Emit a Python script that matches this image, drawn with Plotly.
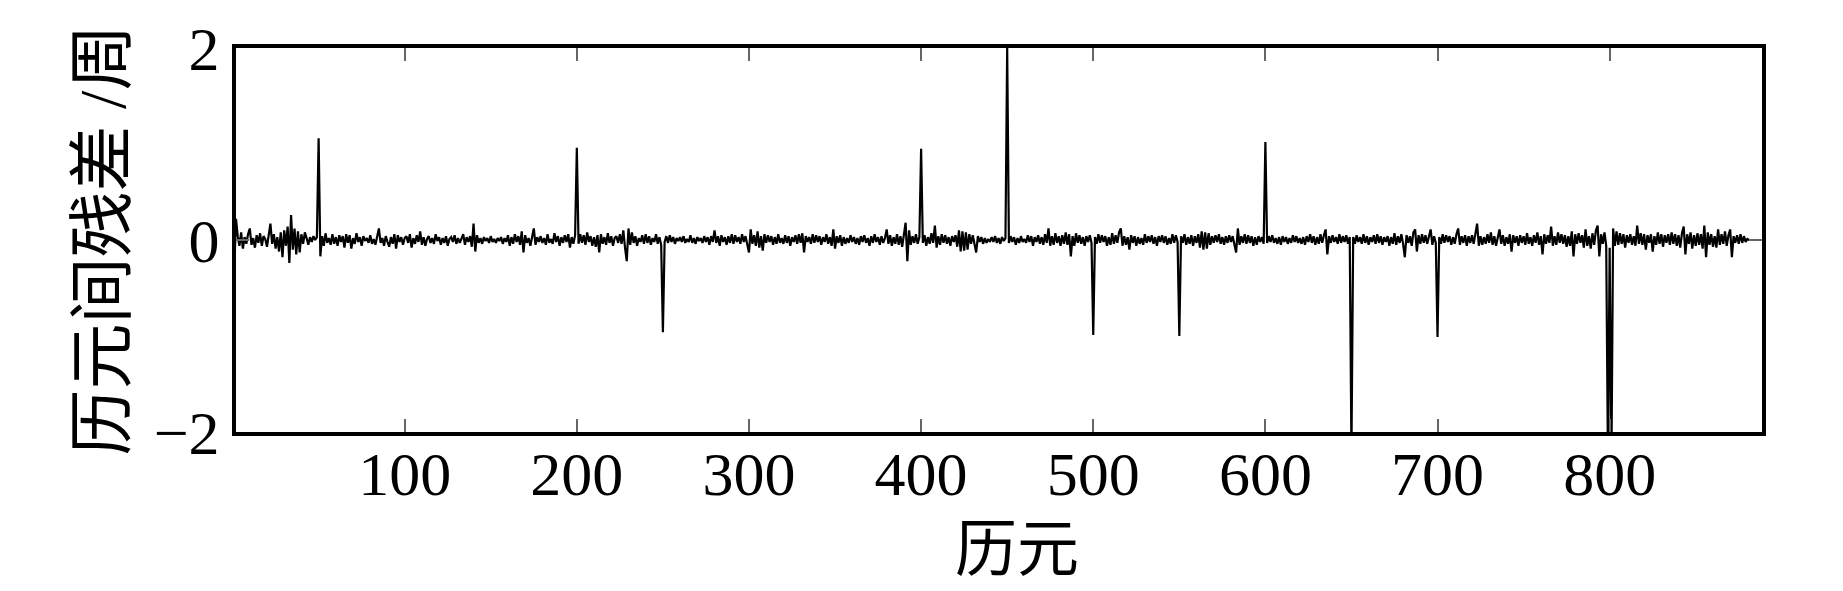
"""Epoch-differenced residuals (cycles) against epoch number."""

import plotly.graph_objects as go

# ---------------------------------------------------------------------------
# Data (residuals in 0.01 cycle, one value per epoch)
# ---------------------------------------------------------------------------

RES_001_100 = [
    -30, 22, 4, -6, 8, -9, 3, -4, 6, 12, -5, 2, -8, 5, -3, 7, -6, 4, 1, -7,
    5, 17, -4, 6, -9, 3, -12, 8, -18, 10, -6, 14, -24, 26, -10, 12, -15, 9, -13, 6,
    -4, 8, 2, -5, 3, -2, 4, 0, 3, 106, -17, 4, -6, 7, -3, 2, -5, 6, -4, 3,
    -6, 5, -2, 4, -8, 6, -3, 5, -9, 2, -4, 7, -2, 3, -6, 4, -1, 2, -3, 5,
    -4, 1, -5, 3, 12, -3, 2, -6, 4, -2, -7, 3, -4, 6, -9, 5, -2, 3, -5, 2,
]
RES_101_200 = [
    4, -3, 6, -8, 2, -4, 5, -2, 9, -5, 3, -6, 1, 4, -3, 2, -4, 6, -1, 3,
    -5, 2, -3, 4, -6, 1, 3, -2, 5, -4, 2, -3, 1, 6, -5, 3, -2, 4, -7, 17,
    -12, 5, -3, 2, -4, 3, -1, 2, -3, 4, -2, 1, -3, 2, -1, 3, -4, 2, -2, 5,
    -6, 3, -4, 6, -2, 4, -5, 9, -13, 5, -3, 2, -6, 4, 12, -5, 3, -2, 4, -3,
    2, -5, 6, -3, 1, -4, 7, -2, 4, -6, 3, -3, 5, -2, 6, -8, 3, -4, 5, 96,
]
RES_201_300 = [
    -4, 6, -3, 5, -5, 8, -2, 4, -6, 3, -7, 5, -13, 6, -4, 3, -5, 7, -3, 4,
    -6, 2, 4, -3, 6, -4, 10, -8, -22, 12, -5, 8, -3, 4, -6, 2, -2, 5, -4, 6,
    -3, 4, -5, 2, -2, 6, -4, 3, -5, -96, -2, 4, -3, 5, -2, 3, -4, 2, -1, 3,
    -2, 4, -3, 1, -2, 5, -3, 2, -4, 3, -1, 2, -3, 4, -2, 3, -5, 4, -2, 10,
    -3, 4, -6, 5, -2, 3, -5, 4, -3, 6, -4, 5, -2, 3, -4, 6, -2, 4, -3, -13,
]
RES_301_400 = [
    11, -4, 5, -6, 9, -8, 4, -11, 6, -3, 5, -2, 4, -5, 3, -4, 6, -3, 2, -4,
    5, -3, 4, -6, 3, -2, 5, -4, 6, -3, 7, -13, 4, -2, 3, -4, 6, -3, 5, -2,
    4, -5, 3, -2, 6, -4, 3, -6, 11, -9, 4, -3, 5, -6, 3, -4, 2, -3, 5, -2,
    3, -4, 2, -5, 4, -2, 5, -3, 2, -6, 4, -3, 6, -2, 3, -5, 4, -3, 2, 11,
    -4, 5, -6, 3, -4, 6, -5, 4, -7, 8, 18, -22, 10, -5, 4, -3, 6, -4, 3, 95,
]
RES_401_500 = [
    -3, 5, -6, 3, -4, 7, -3, 15, -8, 4, -5, 6, -3, 5, -4, 3, -6, 4, -2, 5,
    -7, 10, -12, 9, -11, 8, -10, 6, -4, 5, -3, -13, 4, -2, 3, -4, 2, -3, 1, -2,
    3, -2, 4, -3, 2, -4, 3, -1, 2, 200, -3, 4, -2, 3, -5, 2, -3, 4, -2, 1,
    -3, 5, -2, 4, -6, 3, -2, 5, -4, 3, -5, 6, -3, 12, -6, 4, -5, 7, -3, 4,
    -6, 5, -4, 8, -5, 6, -17, 4, -6, 7, -3, 5, -4, 3, -6, 4, -2, 5, -3, -99,
]
RES_501_600 = [
    3, -4, 6, -3, 5, -2, 4, -6, 3, -5, 7, -4, 5, -3, 8, 12, -6, 4, -5, 3,
    -10, 5, -3, 4, -6, 3, -4, 2, -5, 6, -3, 4, -2, 5, -4, 3, -6, 4, -2, 5,
    -3, 4, -5, 2, -4, 6, -3, 5, -2, -100, 4, -3, 6, -5, 3, -4, 5, -6, 4, -3,
    6, -8, 9, -10, 8, -9, 7, -5, 4, -3, 5, -2, 6, -4, 3, -5, 4, -3, 5, -2,
    4, -6, -13, 12, -5, 4, -3, 6, -4, 5, -3, 4, -6, 3, -5, 4, -2, 3, -4, 102,
]
RES_601_700 = [
    -3, 4, -2, 5, -3, 2, -4, 3, -5, 4, -2, 3, -4, 2, -3, 5, -2, 4, -3, 2,
    -4, 3, -5, 4, -2, 6, -3, 4, -5, 3, -4, 6, -3, 5, 11, -15, 4, -3, 5, -2,
    3, -4, 6, -3, 4, -2, 5, -4, 3, -220, 3, -4, 5, -2, 3, -4, 6, -3, 4, -5,
    3, -2, 5, -4, 6, -3, 4, -5, 3, -2, 4, -6, 3, -4, 7, -5, 4, -3, 6, -4,
    -18, 5, -3, 4, -6, 8, 11, -12, 5, -4, 6, -3, 5, -4, 3, 11, -5, 4, -3, -101,
]
RES_701_800 = [
    3, -4, 6, -3, 5, -2, 4, -5, 3, -4, 6, 12, -5, 4, -3, 5, -6, 4, -3, 5,
    -4, 6, 17, -6, 4, -5, 3, -4, 6, -3, 8, -5, 4, -6, 3, 11, -4, 5, -6, 3,
    -4, 6, -12, 5, -3, 4, -6, 5, -3, 4, -5, 7, -4, 3, -6, 5, -3, 8, -5, 4,
    -15, 6, -4, 5, -3, 14, -6, 4, -5, 8, -3, 6, -4, 5, -7, 4, -6, 9, -17, 6,
    -4, 7, -3, 5, -8, 11, -6, 4, -9, 7, -5, 10, 15, -17, 6, -4, 8, -6, -230, -8,
]
RES_801_888 = [
    -240, 12, -6, 9, -5, 7, -4, 6, -8, 5, -3, 6, -5, 4, -6, 15, -4, 7, -5, 6,
    -10, 5, -3, 6, -12, 4, -5, 8, -4, 6, -7, 5, -3, 6, -5, 8, -4, 6, -6, 5,
    -8, 7, 14, -15, 6, -4, 8, -9, 5, -6, 7, -5, 6, -9, 15, -18, 8, -5, 6, -7,
    4, -8, 11, -5, 6, -4, 9, -6, 5, 11, -18, 4, -3, 5, -4, 6, -3, 4, -2, 1,
    0, 0, 0, 0, 0, 0, 0, 0,
]

X_TICKS = [100, 200, 300, 400, 500, 600, 700, 800]
Y_TICKS = [-2, 0, 2]

# ---------------------------------------------------------------------------
# Figure
# ---------------------------------------------------------------------------

residuals = (
    RES_001_100 + RES_101_200 + RES_201_300 + RES_301_400 + RES_401_500
    + RES_501_600 + RES_601_700 + RES_701_800 + RES_801_888
)
epochs = list(range(1, len(residuals) + 1))
cycles = [v / 100 for v in residuals]

SERIF = "Liberation Serif, Times New Roman, Noto Sans CJK SC, serif"

fig = go.Figure(
    go.Scatter(
        x=epochs,
        y=cycles,
        mode="lines",
        line=dict(color="black", width=2.2),
        showlegend=False,
        hoverinfo="x+y",
    )
)

axis_common = dict(
    showgrid=False,
    zeroline=False,
    showline=True,
    linewidth=4,
    linecolor="black",
    mirror="ticks",
    ticks="inside",
    ticklen=13,
    tickwidth=2,
    tickcolor="#666666",
    tickfont=dict(family=SERIF, size=62, color="black"),
)

fig.update_layout(
    width=1843,
    height=591,
    plot_bgcolor="white",
    paper_bgcolor="white",
    margin=dict(l=236, r=81, t=48, b=159),
    font=dict(family=SERIF, color="black"),
)
fig.update_xaxes(
    **axis_common,
    range=[2, 888.5],
    tickvals=X_TICKS,
    ticklabelstandoff=-15,
)
fig.update_yaxes(
    **axis_common,
    range=[-2, 2],
    tickvals=Y_TICKS,
    title=dict(text="历元间残差 /周", font=dict(family=SERIF, size=66), standoff=8),
)

# x-axis title sits a little right of the plot centre in the original
fig.add_annotation(
    text="历元",
    xref="paper",
    yref="paper",
    x=0.512,
    y=-0.307,
    xanchor="center",
    yanchor="middle",
    showarrow=False,
    font=dict(family=SERIF, size=62, color="black"),
)

fig.write_html(
    "out.html",
    config={"displayModeBar": False},
    post_script="document.body.style.margin='0';",
)
